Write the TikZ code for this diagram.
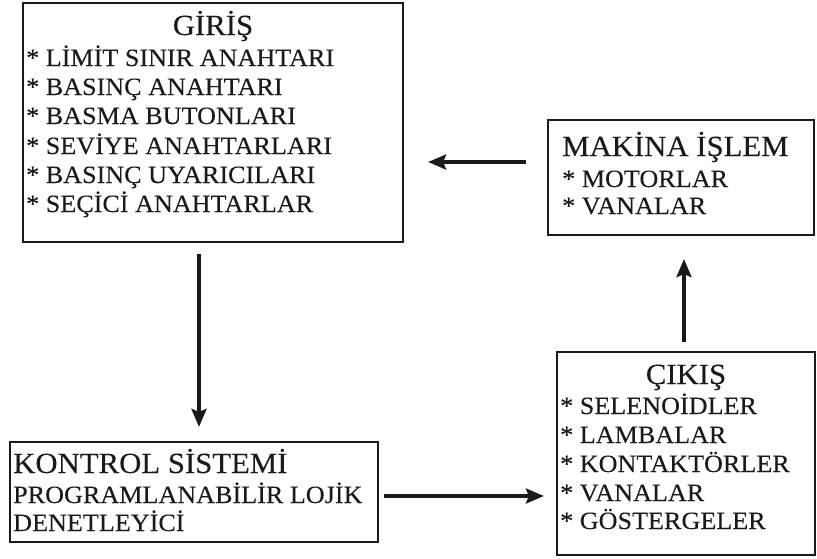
\documentclass[tikz,border=0pt]{standalone}
\usepackage{fontspec}
\setmainfont{Liberation Serif}[FakeStretch=1.05,FakeBold=0.12]
\usetikzlibrary{arrows.meta,calc}
\definecolor{ink}{HTML}{1A1A1A}
\tikzset{
  box/.style={draw=ink, line width=2.2pt, inner sep=0pt, rectangle},
  item/.style={anchor=base west, inner sep=0pt, text=ink, font=\fontsize{24.9}{27}\selectfont},
  ttl/.style={anchor=base, inner sep=0pt, text=ink, font=\fontsize{29.3}{32}\selectfont},
  ttlw/.style={anchor=base west, inner sep=0pt, text=ink, font=\fontsize{29.3}{32}\selectfont},
  arr/.style={draw=ink, line width=3.4pt, -{Stealth[length=18pt,width=15pt,inset=3pt]}}
}
\begin{document}
\begin{tikzpicture}[x=1pt,y=-1pt]
\useasboundingbox (0,0) rectangle (817,558);
% boxes
\node[box, minimum width=380pt, minimum height=239pt] (giris) at (213,122.5) {};
\node[box, minimum width=266pt, minimum height=115pt] (makina) at (681,177.5) {};
\node[box, minimum width=368pt, minimum height=100pt] (kontrol) at (194,492) {};
\node[box, minimum width=258pt, minimum height=203pt] (cikis) at (686,453.5) {};
% GİRİŞ
\node[ttl] (gt) at (213,35) {GİRİŞ};
\node[item] (g1) at (26,66) {* LİMİT SINIR ANAHTARI};
\node[item] (g2) at (26,95) {* BASINÇ ANAHTARI};
\node[item] (g3) at (26,124) {* BASMA BUTONLARI};
\node[item] (g4) at (26,154) {* SEVİYE ANAHTARLARI};
\node[item] (g5) at (26,183) {* BASINÇ UYARICILARI};
\node[item] (g6) at (26,212) {* SEÇİCİ ANAHTARLAR};
% MAKİNA İŞLEM
\node[ttlw] (mt) at (562,156) {MAKİNA İŞLEM};
\node[item] (m1) at (562,187) {* MOTORLAR};
\node[item] (m2) at (562,214) {* VANALAR};
% KONTROL
\node[ttlw] (kt) at (13,473) {KONTROL SİSTEMİ};
\node[item] (k1) at (13,503) {PROGRAMLANABİLİR LOJİK};
\node[item] (k2) at (13,531) {DENETLEYİCİ};
% ÇIKIŞ
\node[ttl] (ct) at (686,384) {ÇIKIŞ};
\node[item] (c1) at (560,414) {* SELENOİDLER};
\node[item] (c2) at (560,443) {* LAMBALAR};
\node[item] (c3) at (560,472) {* KONTAKTÖRLER};
\node[item] (c4) at (560,501) {* VANALAR};
\node[item] (c5) at (560,529) {* GÖSTERGELER};
% arrows
\draw[arr] ($(makina.west)+(-21,-15.5)$) -- ($(giris.east)+(24,39.5)$);
\draw[arr] ($(giris.south)+(-14,11)$) -- ($(kontrol.north)+(5,-14)$);
\draw[arr] ($(kontrol.east)+(5,4)$) -- ($(cikis.west |- kontrol.east)+(-12,4)$);
\draw[arr] ($(cikis.north)+(-2,-9)$) -- ($(makina.south)+(3,23)$);
\end{tikzpicture}
\end{document}
